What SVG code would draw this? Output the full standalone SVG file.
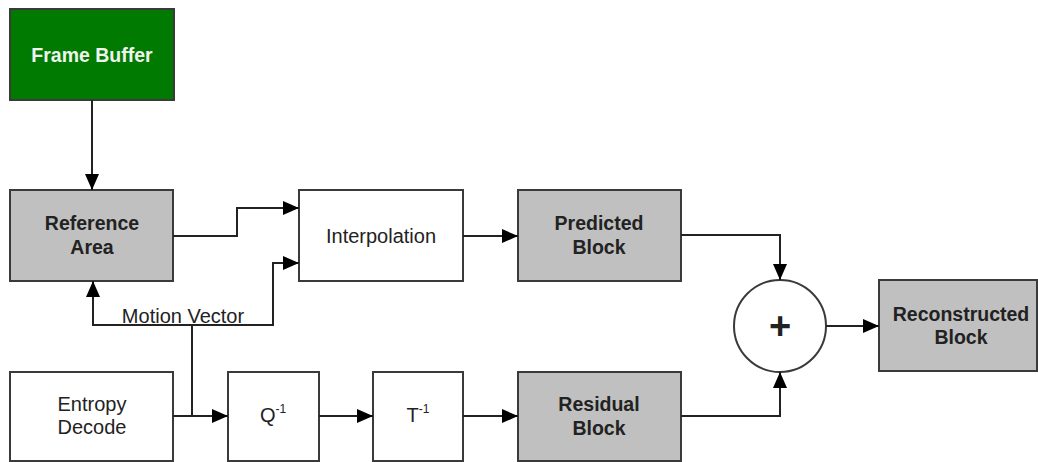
<svg xmlns="http://www.w3.org/2000/svg" width="1038" height="462" viewBox="0 0 1038 462">
  <style>
    .box { stroke: #3a3a3a; stroke-width: 2; }
    .white { fill: #ffffff; }
    .gray { fill: #c0c0c0; }
    .green { fill: #007a00; }
    .lbl { font-family: "Liberation Sans", Arial, sans-serif; font-size: 20px; fill: #222; text-anchor: middle; }
    .bold { font-weight: bold; font-size: 19.5px; }
    .light { fill: #eef5ee; }
    .wire { fill: none; stroke: #222; stroke-width: 2; }
  </style>
  <defs>
    <marker id="arrow" markerUnits="userSpaceOnUse" markerWidth="16" markerHeight="14" refX="16" refY="7" orient="auto">
      <path d="M0,0 L16,7 L0,14 Z" fill="#000"/>
    </marker>
  </defs>
  <rect width="1038" height="462" fill="#ffffff"/>

  <g id="frame-buffer">
    <rect class="box green" x="10" y="9" width="164" height="91"/>
    <text class="lbl bold light" x="92" y="62">Frame Buffer</text>
  </g>
  <g id="reference-area">
    <rect class="box gray" x="10" y="190" width="163" height="91"/>
    <text class="lbl bold" x="92" y="230">Reference</text>
    <text class="lbl bold" x="92" y="254">Area</text>
  </g>
  <g id="interpolation">
    <rect class="box white" x="299" y="190" width="164" height="91"/>
    <text class="lbl" x="381" y="243">Interpolation</text>
  </g>
  <g id="predicted-block">
    <rect class="box gray" x="518" y="190" width="163" height="91"/>
    <text class="lbl bold" x="599" y="230">Predicted</text>
    <text class="lbl bold" x="599" y="254">Block</text>
  </g>
  <g id="sum">
    <circle class="box white" cx="780" cy="326" r="46"/>
    <text class="lbl bold" x="780" y="339" style="font-size:38px">+</text>
  </g>
  <g id="reconstructed-block">
    <rect class="box gray" x="879" y="280" width="158" height="91"/>
    <text class="lbl bold" x="961" y="321">Reconstructed</text>
    <text class="lbl bold" x="961" y="344">Block</text>
  </g>
  <g id="entropy-decode">
    <rect class="box white" x="10" y="372" width="163" height="89"/>
    <text class="lbl" x="92" y="411">Entropy</text>
    <text class="lbl" x="92" y="434">Decode</text>
  </g>
  <g id="inverse-quant">
    <rect class="box white" x="228" y="372" width="91" height="89"/>
    <text class="lbl" x="273" y="422">Q<tspan dy="-9" style="font-size:12px">-1</tspan></text>
  </g>
  <g id="inverse-transform">
    <rect class="box white" x="373" y="372" width="90" height="89"/>
    <text class="lbl" x="418" y="422">T<tspan dy="-9" style="font-size:12px">-1</tspan></text>
  </g>
  <g id="residual-block">
    <rect class="box gray" x="518" y="372" width="163" height="89"/>
    <text class="lbl bold" x="599" y="411">Residual</text>
    <text class="lbl bold" x="599" y="435">Block</text>
  </g>

  <g id="connectors">
    <path class="wire" d="M92,100 V190" marker-end="url(#arrow)"/>
    <path class="wire" d="M173,236 H237 V208 H299" marker-end="url(#arrow)"/>
    <path class="wire" d="M192,416 V325 H273 V263 H299" marker-end="url(#arrow)"/>
    <path class="wire" d="M192,325 H93 V281" marker-end="url(#arrow)"/>
    <path class="wire" d="M463,236 H518" marker-end="url(#arrow)"/>
    <path class="wire" d="M681,235 H780 V280" marker-end="url(#arrow)"/>
    <path class="wire" d="M173,416 H228" marker-end="url(#arrow)"/>
    <path class="wire" d="M319,416 H373" marker-end="url(#arrow)"/>
    <path class="wire" d="M463,416 H518" marker-end="url(#arrow)"/>
    <path class="wire" d="M681,416 H780 V372" marker-end="url(#arrow)"/>
    <path class="wire" d="M826,326 H879" marker-end="url(#arrow)"/>
    <text class="lbl" x="183" y="323">Motion Vector</text>
  </g>
</svg>
